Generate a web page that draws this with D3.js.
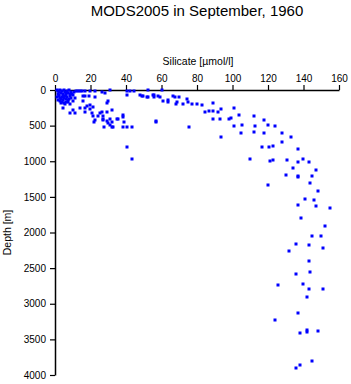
<!DOCTYPE html>
<html>
<head>
<meta charset="utf-8">
<script src="https://cdn.jsdelivr.net/npm/d3@7"></script>
<style>
  body { margin: 0; background: #fff; }
  text { font-family: "Liberation Sans", Arial, sans-serif; }
</style>
</head>
<body>
<div id="chart-area"></div>
<script>
/*
*    MODS2005 silicate profile, September 1960
*/

var width = 351;
var height = 384;
var margin = {top: 90, right: 12, bottom: 9, left: 55};
var plotWidth = width - margin.left - margin.right;
var plotHeight = height - margin.top - margin.bottom;

// silicate values [umol/l]
var silicate = [
    1.1, 1.7, 2.3, 2.8, 3.4, 3.9, 4.5, 5.1, 5.6, 6.2, 6.8, 7.3, 7.9, 8.5, 9.0, 9.6,
    1.7, 2.3, 2.8, 3.4, 3.9, 4.5, 5.1, 5.6, 6.2, 6.8, 7.3, 1.1, 1.7, 2.8, 3.9, 5.1,
    6.2, 7.9, 9.0, 10.1, 10.7, 11.8, 4.5, 5.6, 8.5, 8.5, 10.1, 11.3, 10.1, 11.3, 2.3, 4.5,
    6.2, 8.5, 3.4, 7.3,
    13.0, 14.1, 15.2, 16.9, 19.7, 22.5, 26.5, 28.2, 31.0, 29.9, 29.3, 15.8, 14.1, 16.9, 18.0, 19.7,
    21.4, 15.8, 16.9, 19.2, 22.5,
    16.9, 19.7, 20.8, 21.4, 25.4, 26.5, 24.2, 27.0, 29.3, 32.1, 22.5, 22.0, 27.0, 29.3, 29.9, 32.1,
    31.0, 32.7, 35.5, 38.3, 38.3, 27.6, 32.1, 38.3, 40.6, 43.4, 38.9, 34.9, 31.0, 27.0, 40.6, 43.4,
    40.6, 40.6, 42.3, 44.5, 47.9, 49.6, 52.4, 52.4, 55.2, 58.0, 56.9,
    60.3, 49.0, 51.8, 55.8, 55.8, 59.2, 66.5, 67.6, 69.9, 74.4, 74.9, 60.8, 63.7, 63.7, 68.7, 68.2,
    72.1, 77.2, 80.0, 82.8, 89.0, 93.5, 100.8, 103.7, 112.1, 84.5, 86.8, 89.0, 91.8, 89.0, 93.0, 98.0,
    99.2, 100.8, 105.4, 112.7, 104.8, 112.1, 56.9, 75.5, 93.5, 109.9,
    117.8, 120.0, 123.9, 117.8, 127.9, 133.0, 127.9, 116.6, 120.6, 122.8, 136.9, 121.1, 122.8, 130.7, 136.9, 139.7,
    143.1, 134.1, 147.0, 130.1, 136.9, 136.9, 144.8, 143.7, 120.0, 148.2, 140.9,
    145.9, 136.9, 147.0, 154.9, 138.6, 152.1, 144.8, 149.9, 135.8, 143.1, 151.0, 131.8, 143.1, 143.7, 135.8, 125.6,
    139.7, 143.1, 151.0,
    142.0, 136.9, 123.9, 142.0, 142.0, 148.2, 138.0, 144.8, 138.0, 135.8
];

// depth values [m], same order as silicate
var depth = [
    0, 14, 28, 0, 42, 14, 56, 0, 28, 70, 14, 42, 0, 84, 28, 56,
    56, 84, 112, 126, 98, 140, 112, 84, 126, 98, 140, 98, 140, 154, 168, 182,
    168, 126, 112, 70, 28, 14, 253, 196, 196, 323, 281, 323, 154, 112, 70, 84,
    42, 56, 182, 168,
    14, 14, 14, 14, 14, 14, 28, 42, 0, 154, 182, 154, 253, 253, 225, 211,
    239, 84, 84, 84, 98,
    309, 267, 323, 365, 323, 309, 365, 365, 309, 281, 421, 449, 421, 435, 463, 449,
    491, 519, 407, 351, 379, 519, 519, 519, 519, 519, 449, 407, 407, 407, 800, 968,
    14, 70, 14, 14, 70, 84, 0, 98, 70, 84, 449,
    0, 84, 98, 70, 98, 98, 84, 98, 98, 126, 168, 154, 140, 168, 168, 196,
    196, 196, 196, 211, 182, 267, 253, 351, 365, 309, 295, 295, 309, 407, 407, 407,
    393, 505, 491, 505, 604, 589, 435, 519, 660, 968,
    421, 491, 505, 604, 604, 660, 730, 800, 800, 786, 828, 996, 982, 982, 1011, 968,
    1011, 1095, 1123, 1193, 1207, 1221, 1207, 1305, 1333, 1418, 1530,
    1544, 1614, 1628, 1656, 1796, 1909, 2049, 2049, 2161, 2175, 2217, 2260, 2400, 2554, 2582, 2737,
    2723, 2793, 2793,
    2905, 3130, 3228, 3368, 3396, 3382, 3410, 3803, 3860, 3902
];

var xTicks = [0, 20, 40, 60, 80, 100, 120, 140, 160];
var yTicks = [0, 500, 1000, 1500, 2000, 2500, 3000, 3500, 4000];

var svg = d3.select("#chart-area").append("svg")
    .attr("width", width)
    .attr("height", height);

var graph = svg.append("g").attr("transform", "translate(" + margin.left + ", " + margin.top + ")");

var x = d3.scaleLinear().domain([0, 160]).range([0, plotWidth]);
var y = d3.scaleLinear().domain([0, 4000]).range([0, plotHeight]);

// axes
var xAxis = d3.axisTop(x).tickValues(xTicks).tickSize(5).tickSizeOuter(0).tickPadding(3)
    .tickFormat(d3.format("d"));
var gx = graph.append("g").attr("class", "top axis").call(xAxis);

var yAxis = d3.axisLeft(y).tickValues(yTicks).tickSize(5).tickSizeOuter(0).tickPadding(4)
    .tickFormat(d3.format("d"));
var gy = graph.append("g").attr("class", "left axis").call(yAxis);

[gx, gy].forEach(function(g) {
    g.select(".domain").attr("stroke", "#000").attr("stroke-width", 1.5);
    g.selectAll(".tick line").attr("stroke", "#000").attr("stroke-width", 1.2);
    g.selectAll(".tick text").attr("font-size", "10px").attr("fill", "#000")
        .attr("font-family", "'Liberation Sans', Arial, sans-serif");
});

// points
var points = silicate.map(function(s, i) { return {si: s, dep: depth[i]}; });

graph.selectAll("rect.pt").data(points).enter().append("rect")
    .attr("class", "pt")
    .attr("x", function(d) { return Math.round(x(d.si)) - 1.5; })
    .attr("y", function(d) { return Math.round(y(d.dep)) - 1.5; })
    .attr("width", 3)
    .attr("height", 3)
    .attr("fill", "#0000ff");

// labels
svg.append("text").attr("x", margin.left + plotWidth / 2).attr("y", 16)
    .attr("font-size", "15px").attr("text-anchor", "middle")
    .text("MODS2005 in September, 1960");

svg.append("text").attr("x", margin.left + plotWidth / 2 + 1).attr("y", 65)
    .attr("font-size", "10.5px").attr("text-anchor", "middle")
    .text("Silicate [\u00b5mol/l]");

svg.append("text").attr("x", -(margin.top + plotHeight / 2)).attr("y", 11)
    .attr("font-size", "10.5px").attr("text-anchor", "middle")
    .attr("transform", "rotate(-90)")
    .text("Depth [m]");
</script>
</body>
</html>
